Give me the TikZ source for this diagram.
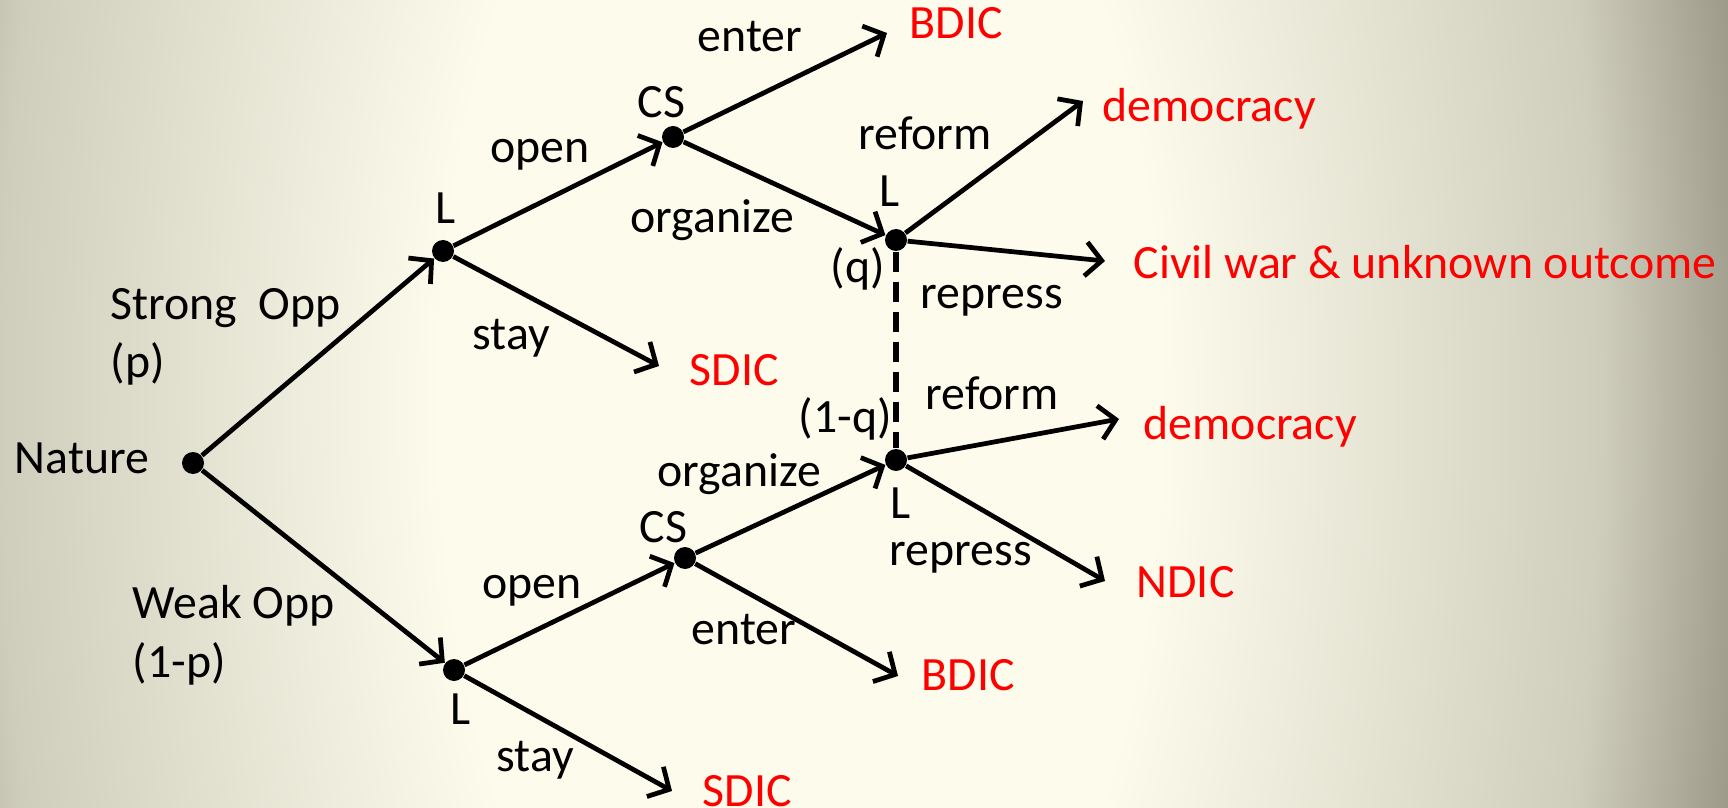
\documentclass[tikz,border=0pt]{standalone}
\usepackage{fontspec}
\setmainfont{Carlito}
\usetikzlibrary{arrows.meta, positioning}
\definecolor{bgin}{RGB}{253,251,236}
\definecolor{bgmid}{RGB}{207,205,187}
\definecolor{bgout}{RGB}{160,157,140}
\definecolor{bgend}{RGB}{150,147,130}
\definecolor{outred}{RGB}{255,0,0}
\pgfdeclareradialshading{bgglow}{\pgfpoint{0bp}{0bp}}{color(0bp)=(bgin); color(9bp)=(bgin); color(20bp)=(bgmid); color(23.5bp)=(bgout); color(25bp)=(bgend); color(50bp)=(bgend)}

\tikzset{
  dot/.style={circle, fill=black, inner sep=0pt, minimum size=2.2mm},
  move/.style={->, line width=1.35pt},
  lbl/.style={font=\fontsize{13.6}{16}\selectfont, inner sep=0pt, anchor=base west},
  outcome/.style={lbl, text=outred},
}

\begin{document}
\begin{tikzpicture}[x=0.1mm, y=-0.1mm, >={Straight Barb[length=1.6mm,width=3.4mm]}]
\useasboundingbox (0,0) rectangle (1728,808);
\shade[shading=bgglow] (-200,-1596) rectangle (1800,2404);

% Decision points
\node[dot] (nature) at (193,463) {};
\node[dot] (lstrong) at (443,251) {};
\node[dot] (lweak) at (454,670) {};
\node[dot] (csstrong) at (673,137) {};
\node[dot] (csweak) at (685,558) {};
\node[dot] (linfoq) at (896,240) {};
\node[dot] (linfonq) at (896,460) {};

% Outcomes
\coordinate (bdicAtip) at (887,33);
\coordinate (demAtip) at (1083,101);
\coordinate (civiltip) at (1105,261);
\coordinate (sdicAtip) at (659,366);
\coordinate (demBtip) at (1119,419);
\coordinate (ndictip) at (1105,581);
\coordinate (bdicBtip) at (898,676);
\coordinate (sdicBtip) at (672,791);

\node[outcome] (bdicA) at (909,39) {BDIC};
\node[outcome] (demA) at (1102,122) {democracy};
\node[outcome] (civil) at (1133,279) {Civil war \& unknown outcome};
\node[outcome] (sdicA) at (689,386) {SDIC};
\node[outcome] (demB) at (1143,439) {democracy};
\node[outcome] (ndic) at (1136,597) {NDIC};
\node[outcome] (bdicB) at (921,690) {BDIC};
\node[outcome] (sdicB) at (702,806) {SDIC};

% Moves
\draw[move] (nature) -- (lstrong);
\draw[move] (nature) -- (lweak);
\draw[move] (lstrong) -- (csstrong);
\draw[move] (lstrong) -- (sdicAtip);
\draw[move] (lweak) -- (csweak);
\draw[move] (lweak) -- (sdicBtip);
\draw[move] (csstrong) -- (bdicAtip);
\draw[move] (csstrong) -- (linfoq);
\draw[move] (csweak) -- (linfonq);
\draw[move] (csweak) -- (bdicBtip);
\draw[move] (linfoq) -- (demAtip);
\draw[move] (linfoq) -- (civiltip);
\draw[move] (linfonq) -- (demBtip);
\draw[move] (linfonq) -- (ndictip);

% Information set
\draw[line width=1.5pt, dash pattern=on 2mm off 1mm] (linfoq) -- (linfonq);

% Labels
\node[lbl] (naturelbl) at (14,474) {Nature};
\node[lbl] (stronglbl) at (110,320) {Strong\ \ Opp};
\node[lbl] (plbl) at (110,378) {(p)};
\node[lbl] (weaklbl) at (132,618) {Weak Opp};
\node[lbl] (nplbl) at (132,677) {(1-p)};
\node[lbl] (lstronglbl) at (435,224) {L};
\node[lbl] (lweaklbl) at (450,724) {L};
\node[lbl] (openA) at (490,163) {open};
\node[lbl] (stayA) at (472,350) {stay};
\node[lbl] (openB) at (482,598) {open};
\node[lbl] (stayB) at (496,771) {stay};
\node[lbl] (csAlbl) at (637,118) {CS};
\node[lbl] (csBlbl) at (639,542) {CS};
\node[lbl] (enterA) at (697,52) {enter};
\node[lbl] (organizeA) at (630,233) {organize};
\node[lbl] (organizeB) at (657,487) {organize};
\node[lbl] (enterB) at (691,644) {enter};
\node[lbl] (lqlbl) at (879,207) {L};
\node[lbl] (qlbl) at (830,283) {(q)};
\node[lbl] (nqlbl) at (798,432) {(1-q)};
\node[lbl] (lnqlbl) at (890,518) {L};
\node[lbl] (reformA) at (858,150) {reform};
\node[lbl] (repressA) at (920,309) {repress};
\node[lbl] (reformB) at (925,410) {reform};
\node[lbl] (repressB) at (889,565) {repress};
\end{tikzpicture}
\end{document}
